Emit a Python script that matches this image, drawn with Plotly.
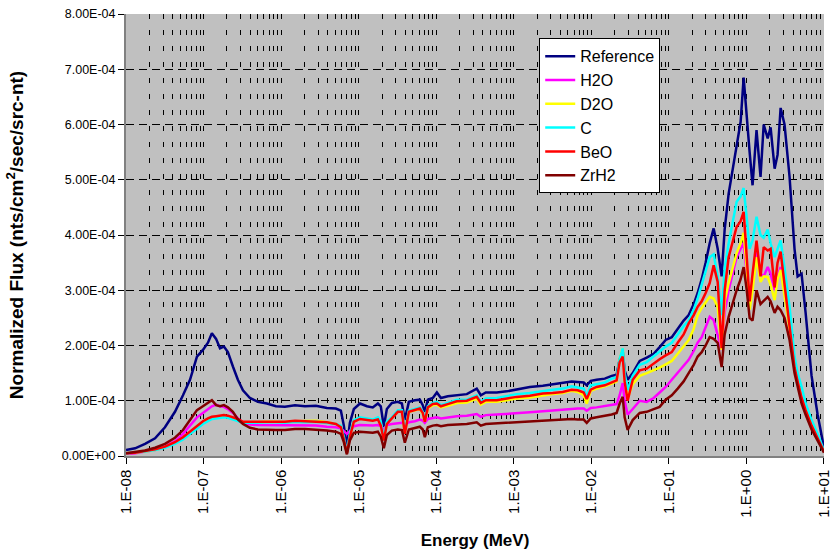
import plotly.graph_objects as go

# Energy grid (MeV)
energy = [1.00e-8, 1.31e-8, 1.76e-8, 2.37e-8, 3.18e-8, 4.28e-8, 5.43e-8, 6.69e-8, 8.22e-8, 9.81e-8,
          1.14e-7, 1.28e-7, 1.45e-7, 1.63e-7, 1.83e-7, 2.06e-7, 2.39e-7, 2.77e-7, 3.22e-7, 3.96e-7,
          5.02e-7, 6.56e-7, 8.57e-7, 1.12e-6, 1.51e-6, 2.03e-6, 2.81e-6, 3.89e-6, 5.08e-6, 5.90e-6,
          6.44e-6, 7.05e-6, 7.71e-6, 8.67e-6, 1.04e-5, 1.28e-5, 1.52e-5, 1.77e-5, 1.93e-5, 2.11e-5,
          2.31e-5, 2.68e-5, 3.20e-5, 3.61e-5, 3.94e-5, 4.44e-5, 5.30e-5, 6.15e-5, 6.71e-5, 7.13e-5,
          7.80e-5, 9.04e-5, 1.02e-4, 1.15e-4, 1.41e-4, 1.84e-4, 2.48e-4, 3.33e-4, 3.76e-4, 4.36e-4,
          6.04e-4, 8.13e-4, 1.09e-3, 1.61e-3, 2.37e-3, 3.18e-3, 4.28e-3, 5.58e-3, 6.68e-3, 7.98e-3,
          8.73e-3, 9.82e-3, 1.17e-2, 1.49e-2, 1.83e-2, 2.12e-2, 2.32e-2, 2.54e-2, 2.69e-2, 2.94e-2,
          3.42e-2, 4.21e-2, 5.18e-2, 6.37e-2, 7.60e-2, 9.10e-2, 1.09e-1, 1.30e-1, 1.55e-1, 1.80e-1,
          2.09e-1, 2.35e-1, 2.65e-1, 2.98e-1, 3.36e-1, 3.78e-1, 4.26e-1, 4.79e-1, 5.24e-1, 5.90e-1,
          6.64e-1, 7.48e-1, 8.42e-1, 9.21e-1, 1.01, 1.10, 1.20, 1.35, 1.52, 1.67,
          1.88, 2.05, 2.31, 2.52, 2.76, 3.10, 3.60, 4.17, 4.57, 5.14,
          5.79, 6.92, 8.28, 10.0]

# Flux values in units of 1E-04 nts/cm2/sec/src-nt
reference = [0.11, 0.14, 0.22, 0.32, 0.52, 0.80, 1.10, 1.38, 1.80, 1.92,
             2.05, 2.22, 2.12, 1.95, 1.98, 1.88, 1.62, 1.38, 1.19, 1.05,
             0.98, 0.95, 0.90, 0.89, 0.92, 0.90, 0.91, 0.87, 0.86, 0.82,
             0.55, 0.17, 0.60, 0.85, 0.95, 0.90, 0.88, 0.95, 0.90, 0.53,
             0.85, 0.96, 0.98, 0.95, 0.65, 0.98, 1.01, 1.02, 0.92, 0.80,
             1.02, 1.05, 1.15, 1.05, 1.08, 1.10, 1.12, 1.22, 1.10, 1.15,
             1.15, 1.17, 1.21, 1.25, 1.27, 1.30, 1.32, 1.35, 1.34, 1.33,
             1.28, 1.36, 1.38, 1.40, 1.45, 1.47, 1.75, 1.90, 1.55, 1.38,
             1.50, 1.72, 1.78, 1.85, 1.97, 2.10, 2.15, 2.30, 2.45, 2.55,
             2.75, 2.95, 3.20, 3.50, 3.85, 4.12, 3.75, 3.25, 4.10, 4.75,
             5.20, 5.60, 6.05, 6.85, 6.10, 5.50, 4.90, 5.90, 5.05, 6.00,
             5.75, 5.95, 5.20, 5.45, 6.30, 6.00, 5.05, 3.75, 3.25, 3.30,
             2.60, 1.45, 0.75, 0.15]

h2o = [0.04, 0.05, 0.08, 0.11, 0.17, 0.27, 0.40, 0.55, 0.70, 0.78,
       0.85, 0.90, 0.93, 0.90, 0.89, 0.85, 0.78, 0.68, 0.60, 0.57,
       0.56, 0.56, 0.55, 0.55, 0.56, 0.56, 0.55, 0.53, 0.52, 0.50,
       0.45, 0.40, 0.45, 0.54, 0.56, 0.55, 0.55, 0.56, 0.54, 0.48,
       0.56, 0.58, 0.60, 0.60, 0.56, 0.61, 0.63, 0.66, 0.64, 0.60,
       0.67, 0.69, 0.70, 0.68, 0.70, 0.72, 0.73, 0.76, 0.71, 0.74,
       0.75, 0.76, 0.78, 0.79, 0.81, 0.82, 0.83, 0.85, 0.86, 0.86,
       0.82, 0.87, 0.88, 0.90, 0.92, 0.94, 1.10, 1.32, 1.00, 0.75,
       0.85, 1.00, 0.98, 1.05, 1.15, 1.25, 1.38, 1.50, 1.62, 1.74,
       1.90, 2.05, 2.15, 2.35, 2.52, 2.46, 2.20, 1.92, 2.60, 3.00,
       3.30, 3.60, 3.75, 3.86, 3.30, 2.77, 3.10, 3.73, 3.30, 3.25,
       3.42, 3.30, 3.00, 3.25, 3.42, 3.00, 2.35, 1.60, 1.35, 1.05,
       0.82, 0.55, 0.32, 0.08]

d2o = [0.05, 0.06, 0.08, 0.11, 0.16, 0.24, 0.32, 0.42, 0.53, 0.61,
       0.66, 0.69, 0.70, 0.71, 0.72, 0.71, 0.68, 0.64, 0.61, 0.61,
       0.62, 0.62, 0.62, 0.61, 0.63, 0.63, 0.64, 0.61, 0.58, 0.53,
       0.32, 0.06, 0.37, 0.63, 0.68, 0.66, 0.65, 0.67, 0.58, 0.29,
       0.60, 0.69, 0.80, 0.81, 0.42, 0.80, 0.82, 0.85, 0.77, 0.62,
       0.86, 0.92, 0.93, 0.88, 0.91, 0.96, 0.97, 1.04, 0.93, 0.98,
       0.98, 1.01, 1.04, 1.06, 1.10, 1.12, 1.14, 1.18, 1.16, 1.10,
       0.95, 1.18, 1.22, 1.26, 1.31, 1.35, 1.75, 1.95, 1.40, 1.05,
       1.30, 1.45, 1.50, 1.55, 1.60, 1.66, 1.72, 1.85, 1.98, 2.10,
       2.30, 2.55, 2.68, 2.78, 2.88, 2.85, 2.70, 1.92, 2.80, 3.13,
       3.40, 3.67, 3.85, 4.04, 3.40, 2.65, 3.00, 3.60, 3.15, 3.25,
       3.24, 3.10, 2.82, 3.20, 3.37, 2.90, 2.30, 1.58, 1.33, 1.03,
       0.82, 0.55, 0.32, 0.08]

c = [0.05, 0.06, 0.08, 0.11, 0.15, 0.22, 0.30, 0.40, 0.50, 0.58,
     0.63, 0.67, 0.68, 0.69, 0.70, 0.69, 0.66, 0.62, 0.60, 0.60,
     0.61, 0.61, 0.61, 0.60, 0.62, 0.61, 0.62, 0.60, 0.58, 0.55,
     0.35, 0.07, 0.40, 0.65, 0.70, 0.68, 0.66, 0.70, 0.62, 0.30,
     0.62, 0.70, 0.83, 0.83, 0.45, 0.82, 0.85, 0.88, 0.80, 0.66,
     0.90, 0.96, 0.98, 0.92, 0.96, 1.02, 1.02, 1.10, 0.98, 1.04,
     1.05, 1.08, 1.12, 1.14, 1.18, 1.20, 1.22, 1.26, 1.24, 1.22,
     1.08, 1.28, 1.30, 1.33, 1.40, 1.42, 1.75, 1.95, 1.50, 1.20,
     1.45, 1.65, 1.70, 1.80, 1.90, 1.98, 2.05, 2.20, 2.35, 2.45,
     2.65, 2.85, 3.10, 3.35, 3.60, 3.65, 3.25, 2.55, 3.40, 3.85,
     4.25, 4.60, 4.70, 4.85, 4.30, 3.75, 3.90, 4.33, 4.00, 3.95,
     4.10, 3.85, 3.60, 3.75, 3.90, 3.40, 2.70, 1.80, 1.50, 1.25,
     0.96, 0.65, 0.40, 0.10]

beo = [0.05, 0.06, 0.09, 0.12, 0.17, 0.25, 0.34, 0.44, 0.55, 0.63,
       0.68, 0.71, 0.72, 0.73, 0.74, 0.73, 0.70, 0.67, 0.62, 0.62,
       0.63, 0.62, 0.63, 0.62, 0.64, 0.63, 0.63, 0.61, 0.58, 0.52,
       0.30, 0.05, 0.35, 0.62, 0.67, 0.65, 0.64, 0.66, 0.55, 0.28,
       0.58, 0.68, 0.80, 0.80, 0.40, 0.80, 0.83, 0.86, 0.78, 0.62,
       0.88, 0.94, 0.95, 0.90, 0.94, 0.99, 1.00, 1.07, 0.96, 1.01,
       1.01, 1.04, 1.07, 1.09, 1.13, 1.14, 1.16, 1.20, 1.19, 1.15,
       1.03, 1.20, 1.25, 1.28, 1.33, 1.37, 1.70, 1.80, 1.35, 1.00,
       1.38, 1.55, 1.58, 1.68, 1.75, 1.82, 1.88, 2.05, 2.20, 2.40,
       2.55, 2.70, 2.80, 2.95, 3.13, 3.45, 3.15, 1.95, 3.00, 3.60,
       3.90, 4.15, 4.25, 4.42, 3.60, 2.80, 3.30, 3.90, 3.25, 3.78,
       3.72, 3.75, 3.05, 3.50, 3.70, 3.10, 2.40, 1.60, 1.35, 1.05,
       0.83, 0.55, 0.32, 0.08]

zrh2 = [0.05, 0.07, 0.10, 0.15, 0.22, 0.33, 0.47, 0.65, 0.83, 0.90,
        0.96, 1.01, 0.92, 0.90, 0.92, 0.88, 0.80, 0.66, 0.58, 0.51,
        0.48, 0.47, 0.47, 0.47, 0.49, 0.49, 0.48, 0.46, 0.44, 0.40,
        0.25, 0.03, 0.28, 0.42, 0.44, 0.43, 0.42, 0.44, 0.35, 0.14,
        0.38, 0.46, 0.48, 0.47, 0.24, 0.48, 0.50, 0.53, 0.48, 0.34,
        0.52, 0.55, 0.56, 0.54, 0.56, 0.57, 0.58, 0.61, 0.55, 0.58,
        0.59, 0.60, 0.62, 0.63, 0.64, 0.65, 0.66, 0.67, 0.66, 0.66,
        0.60, 0.68, 0.70, 0.72, 0.75, 0.78, 0.95, 1.07, 0.70, 0.47,
        0.65, 0.78, 0.80, 0.85, 0.89, 1.02, 1.10, 1.22, 1.35, 1.50,
        1.65, 1.80, 1.88, 2.00, 2.15, 2.12, 2.05, 1.61, 2.20, 2.52,
        2.78, 3.00, 3.20, 3.42, 3.00, 2.50, 2.45, 3.00, 2.75, 2.80,
        2.88, 2.80, 2.59, 2.70, 2.64, 2.50, 2.10, 1.50, 1.25, 0.95,
        0.75, 0.48, 0.28, 0.06]

series_names = ["Reference", "H2O", "D2O", "C", "BeO", "ZrH2"]
series_values = [reference, h2o, d2o, c, beo, zrh2]
series_colors = ["#000080", "#FF00FF", "#FFFF00", "#00FFFF", "#FF0000", "#800000"]

y_tick_vals = [0, 1e-4, 2e-4, 3e-4, 4e-4, 5e-4, 6e-4, 7e-4, 8e-4]
y_tick_text = ["0.00E+00", "1.00E-04", "2.00E-04", "3.00E-04", "4.00E-04",
               "5.00E-04", "6.00E-04", "7.00E-04", "8.00E-04"]
x_tick_vals = [1e-8, 1e-7, 1e-6, 1e-5, 1e-4, 1e-3, 1e-2, 1e-1, 1e0, 1e1]
x_tick_text = ["1.E-08", "1.E-07", "1.E-06", "1.E-05", "1.E-04",
               "1.E-03", "1.E-02", "1.E-01", "1.E+00", "1.E+01"]
x_minor_vals = [m * d for d in x_tick_vals[:-1] for m in range(2, 10)]

fig = go.Figure()
for name, vals, col in zip(series_names, series_values, series_colors):
    fig.add_trace(go.Scatter(
        x=energy, y=[v * 1e-4 for v in vals], mode="lines", name=name,
        line=dict(color=col, width=2.5)))

font_family = "Liberation Sans, Arial, sans-serif"
fig.update_layout(
    width=831, height=557,
    margin=dict(l=126, r=7, t=14, b=101, autoexpand=False),
    paper_bgcolor="white", plot_bgcolor="#C0C0C0",
    font=dict(family=font_family, color="black", size=12),
    showlegend=True,
    legend=dict(x=0.592, y=0.945, xanchor="left", yanchor="top",
                bgcolor="white", bordercolor="black", borderwidth=1,
                font=dict(size=16, family=font_family), itemwidth=30,
                tracegroupgap=0),
    xaxis=dict(
        type="log", range=[-8, 1.0003], automargin=False,
        tickmode="array", tickvals=x_tick_vals, ticktext=x_tick_text,
        tickangle=-90, tickfont=dict(size=15), ticklabeloverflow="allow",
        ticks="outside", ticklen=6, tickcolor="black",
        showline=True, linecolor="#808080", linewidth=1.5,
        showgrid=True, gridcolor="black", gridwidth=1, griddash="5px,11px",
        minor=dict(tickvals=x_minor_vals, showgrid=True, gridcolor="black",
                   gridwidth=1, griddash="5px,11px", ticks=""),
        title=dict(text="<b>Energy (MeV)</b>", font=dict(size=17), standoff=17),
        zeroline=False),
    yaxis=dict(
        range=[0, 8e-4], automargin=False,
        tickmode="array", tickvals=y_tick_vals, ticktext=y_tick_text,
        tickfont=dict(size=12.5),
        ticks="outside", ticklen=6, tickcolor="black",
        showline=True, linecolor="#808080", linewidth=2,
        showgrid=True, gridcolor="black", gridwidth=1, griddash="8px,5px",
        title=dict(text="<b>Normalized Flux (nts/cm<sup>2</sup>/sec/src-nt)</b>",
                   font=dict(size=19), standoff=33),
        zeroline=False),
)

fig.write_html("out.html", config={"displayModeBar": False},
               post_script="document.body.style.margin='0px';document.body.style.overflow='hidden';")
